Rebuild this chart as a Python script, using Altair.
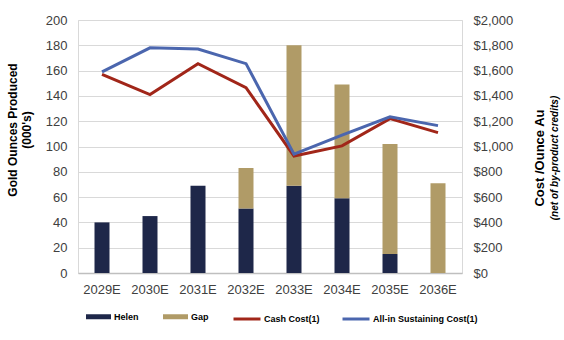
import altair as alt
import pandas as pd

years = ["2029E", "2030E", "2031E", "2032E", "2033E", "2034E", "2035E", "2036E"]
helen = [40, 45, 69, 51, 69, 59, 15, 0]
gap = [0, 0, 0, 32, 111, 90, 87, 71]
cash_cost = [1570, 1410, 1655, 1465, 925, 1005, 1220, 1110]
aisc = [1590, 1780, 1770, 1655, 940, 1090, 1235, 1165]

bar_series = ["Helen", "Gap"]
line_series = ["Cash Cost(1)", "All-in Sustaining Cost(1)"]
left_title = ["Gold Ounces Produced", "(000's)"]
right_title = ["Cost /Ounce Au"]
right_sub = ["(net of by-product credits)"]

navy = "#1e2749"
tan = "#b09b67"
red = "#a12619"
blue = "#4b66ae"
font = "Liberation Sans"

bars_df = pd.DataFrame({
    "year": years * 2,
    "series": [bar_series[0]] * len(years) + [bar_series[1]] * len(years),
    "value": helen + gap,
    "ord": [0] * len(years) + [1] * len(years),
})
lines_df = pd.DataFrame({
    "year": years * 2,
    "series": [line_series[0]] * len(years) + [line_series[1]] * len(years),
    "cost": cash_cost + aisc,
    "ord": [0] * len(years) + [1] * len(years),
})

x_enc = alt.X(
    "year:N", sort=years,
    scale=alt.Scale(paddingInner=0, paddingOuter=0),
    axis=alt.Axis(title=None, labelAngle=0, labelFont=font, labelFontSize=13,
                  labelColor="#404040", labelPadding=10, ticks=False,
                  domainColor="#bfbfbf", domainWidth=1.5, grid=False),
)

bars = alt.Chart(bars_df).mark_bar(size=15).encode(
    x=x_enc,
    y=alt.Y(
        "value:Q", stack="zero",
        scale=alt.Scale(domain=[0, 200]),
        axis=alt.Axis(values=list(range(0, 201, 20)), title=None,
                      labelFont=font, labelFontSize=13, labelColor="#404040",
                      labelPadding=11, ticks=False, domain=False,
                      gridColor="#d9d9d9", gridWidth=1),
    ),
    fill=alt.Fill(
        "series:N",
        scale=alt.Scale(domain=bar_series, range=[navy, tan]),
        legend=alt.Legend(orient="none", legendX=8, legendY=284, direction="horizontal",
                          title=None, symbolType="M-1,-0.2H1V0.2H-1Z", symbolSize=625,
                          symbolStrokeWidth=0, symbolOpacity=1, labelFont=font,
                          labelFontSize=9, labelFontWeight="bold", labelColor="black",
                          labelOffset=3, columnPadding=24),
    ),
    order=alt.Order("ord:Q"),
)

lines = alt.Chart(lines_df).mark_line(strokeWidth=3).encode(
    x=x_enc,
    y=alt.Y(
        "cost:Q",
        scale=alt.Scale(domain=[0, 2000]),
        axis=alt.Axis(orient="right", values=list(range(0, 2001, 200)), format="$,d",
                      grid=False, title=None,
                      labelFont=font, labelFontSize=13, labelColor="#404040",
                      labelPadding=11, ticks=False, domain=False),
    ),
    stroke=alt.Stroke(
        "series:N",
        scale=alt.Scale(domain=line_series, range=[red, blue]),
        legend=alt.Legend(orient="none", legendX=154, legendY=284, direction="horizontal",
                          title=None, symbolType="stroke", symbolSize=729,
                          symbolStrokeWidth=3, labelFont=font, labelFontSize=9,
                          labelFontWeight="bold", labelColor="black", labelOffset=2,
                          columnPadding=16),
    ),
    order=alt.Order("ord:Q"),
)


def title_text(text, xpos, ypos, size, style="normal"):
    return alt.Chart(pd.DataFrame({"t": [text]})).mark_text(
        angle=270, font=font, fontSize=size, fontStyle=style, fontWeight="bold",
        color="black", baseline="middle", align="center",
    ).encode(x=alt.value(xpos), y=alt.value(ypos), text="t:N")


t1 = title_text(left_title[0], -65, 110, 12)
t2 = title_text(left_title[1], -51, 110, 12)
t3 = title_text(right_title[0], 462, 138, 13)
t4 = title_text(right_sub[0], 477, 138, 10, "italic")

chart = alt.layer(bars, lines, t1, t2, t3, t4).resolve_scale(
    y="independent"
).properties(
    width=384, height=253,
    autosize=alt.AutoSizeParams(type="none"),
    padding={"left": 78, "top": 20, "right": 102, "bottom": 67},
).configure_view(stroke="#d9d9d9")

chart.save("out.html", embed_options={"renderer": "svg", "actions": False})
